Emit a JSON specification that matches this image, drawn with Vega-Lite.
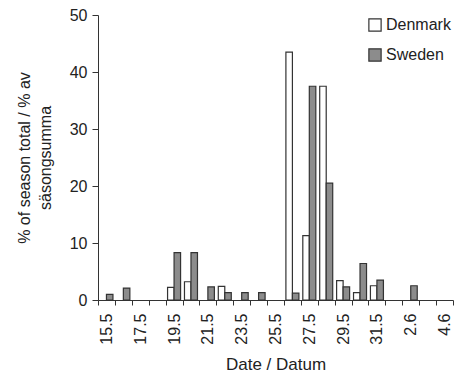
{
  "$schema": "https://vega.github.io/schema/vega-lite/v6.json",
  "width": 355,
  "height": 285,
  "autosize": {"type": "none"},
  "padding": {"left": 98, "top": 15, "right": 5, "bottom": 81},
  "background": "white",
  "config": {
    "font": "Liberation Sans",
    "view": {"stroke": null},
    "axis": {"domainColor": "#333", "tickColor": "#333", "labelColor": "#222", "titleColor": "#222", "grid": false, "titleFontWeight": "normal"}
  },
  "data": {
    "values": [
      {"date": "15.5", "country": "Sweden", "pct": 1.0},
      {"date": "16.5", "country": "Sweden", "pct": 2.1},
      {"date": "19.5", "country": "Denmark", "pct": 2.2},
      {"date": "19.5", "country": "Sweden", "pct": 8.3},
      {"date": "20.5", "country": "Denmark", "pct": 3.2},
      {"date": "20.5", "country": "Sweden", "pct": 8.3},
      {"date": "21.5", "country": "Sweden", "pct": 2.3},
      {"date": "22.5", "country": "Denmark", "pct": 2.4},
      {"date": "22.5", "country": "Sweden", "pct": 1.3},
      {"date": "23.5", "country": "Sweden", "pct": 1.3},
      {"date": "24.5", "country": "Sweden", "pct": 1.3},
      {"date": "26.5", "country": "Denmark", "pct": 43.5},
      {"date": "26.5", "country": "Sweden", "pct": 1.2},
      {"date": "27.5", "country": "Denmark", "pct": 11.3},
      {"date": "27.5", "country": "Sweden", "pct": 37.5},
      {"date": "28.5", "country": "Denmark", "pct": 37.5},
      {"date": "28.5", "country": "Sweden", "pct": 20.5},
      {"date": "29.5", "country": "Denmark", "pct": 3.4},
      {"date": "29.5", "country": "Sweden", "pct": 2.3},
      {"date": "30.5", "country": "Denmark", "pct": 1.3},
      {"date": "30.5", "country": "Sweden", "pct": 6.4},
      {"date": "31.5", "country": "Denmark", "pct": 2.5},
      {"date": "31.5", "country": "Sweden", "pct": 3.5},
      {"date": "2.6", "country": "Sweden", "pct": 2.5}
    ]
  },
  "mark": {"type": "bar", "stroke": "#333", "strokeWidth": 1.2},
  "encoding": {
    "x": {
      "field": "date",
      "type": "ordinal",
      "scale": {
        "domain": ["15.5","16.5","17.5","18.5","19.5","20.5","21.5","22.5","23.5","24.5","25.5","26.5","27.5","28.5","29.5","30.5","31.5","1.6","2.6","3.6","4.6"],
        "paddingInner": 0,
        "paddingOuter": 0
      },
      "axis": {
        "title": "Date / Datum",
        "titleFontSize": 17,
        "titlePadding": 12,
        "labelAngle": -90,
        "labelFontSize": 16,
        "labelPadding": 8,
        "labelOverlap": false,
        "tickBand": "extent",
        "tickSize": 5,
        "labelExpr": "indexof(['15.5','17.5','19.5','21.5','23.5','25.5','27.5','29.5','31.5','2.6','4.6'], datum.value) >= 0 ? datum.label : ''"
      }
    },
    "xOffset": {
      "field": "country",
      "type": "nominal",
      "sort": ["Denmark", "Sweden"],
      "scale": {"paddingInner": 0, "paddingOuter": 0.3}
    },
    "y": {
      "field": "pct",
      "type": "quantitative",
      "scale": {"domain": [0, 50], "nice": false},
      "axis": {
        "title": ["% of season total / % av", "säsongsumma"],
        "titleFontSize": 16,
        "titlePadding": 16,
        "titleLineHeight": 21,
        "labelFontSize": 16,
        "labelPadding": 5,
        "tickSize": 6,
        "values": [0, 10, 20, 30, 40, 50]
      }
    },
    "fill": {
      "field": "country",
      "type": "nominal",
      "scale": {"domain": ["Denmark", "Sweden"], "range": ["#ffffff", "#8c8c8c"]},
      "legend": {
        "title": null,
        "orient": "top-right",
        "offset": 2,
        "symbolType": "square",
        "symbolSize": 150,
        "symbolStrokeColor": "#333",
        "symbolStrokeWidth": 1.2,
        "labelFontSize": 16,
        "labelColor": "#222",
        "rowPadding": 12,
        "labelOffset": 3
      }
    }
  }
}
